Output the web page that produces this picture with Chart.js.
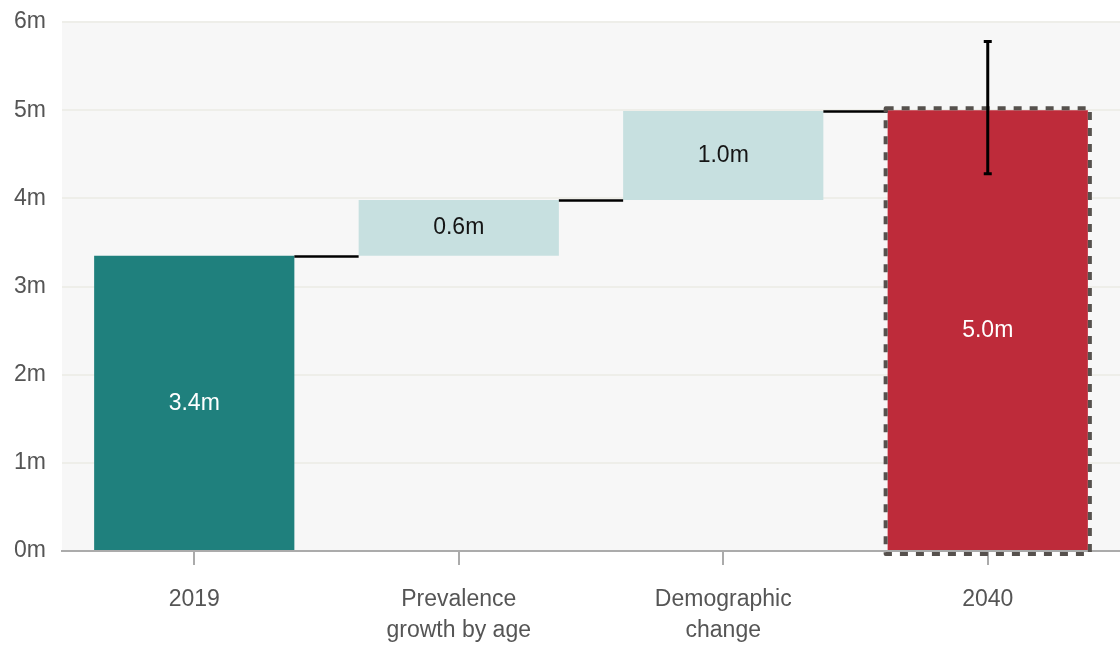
<!DOCTYPE html>
<html>
<head>
<meta charset="utf-8">
<script src="https://cdn.jsdelivr.net/npm/chart.js@4/dist/chart.umd.min.js"></script>
<style>
html,body{margin:0;padding:0;background:#fff;}
#wrap{width:1120px;height:645px;position:relative;}
</style>
</head>
<body>
<div id="wrap"><canvas id="c"></canvas></div>
<script>
const categories = ["2019", ["Prevalence", "growth by age"], ["Demographic", "change"], "2040"];
const barStart = [0, 3.35, 3.98, 0];
const barEnd = [3.35, 3.98, 4.99, 5.0];
const valueLabels = ["3.4m", "0.6m", "1.0m", "5.0m"];
const errorLow = [null, null, null, 4.28];
const errorHigh = [null, null, null, 5.78];
const yTicks = [0, 1, 2, 3, 4, 5, 6];

const barColors = ["#1f807d", "#c7e0e0", "#c7e0e0", "#be2b3a"];
const labelColors = ["#ffffff", "#151515", "#151515", "#ffffff"];

const FONT = "'Liberation Sans', Arial, sans-serif";

const bgPlugin = {
  id: 'bg',
  beforeDraw(chart) {
    const {ctx, chartArea: a} = chart;
    ctx.save();
    ctx.fillStyle = '#f7f7f7';
    ctx.fillRect(a.left, a.top, a.right - a.left, a.bottom - a.top);
    ctx.restore();
  }
};

const overlayPlugin = {
  id: 'overlay',
  afterDatasetsDraw(chart) {
    const {ctx} = chart;
    const y = chart.scales.y;
    const bars = chart.getDatasetMeta(0).data;
    ctx.save();
    // connectors
    ctx.strokeStyle = '#000';
    ctx.lineWidth = 2.5;
    for (let i = 0; i < bars.length - 1; i++) {
      const b = bars[i], n = bars[i + 1];
      const py = Math.round(y.getPixelForValue(barEnd[i])) + 0.5;
      ctx.beginPath();
      ctx.moveTo(b.x + b.width / 2, py);
      ctx.lineTo(n.x - n.width / 2, py);
      ctx.stroke();
    }
    // dashed outline on last bar
    const last = bars[bars.length - 1];
    ctx.strokeStyle = '#56514d';
    ctx.lineWidth = 4;
    ctx.lineJoin = 'round';
    ctx.setLineDash([8, 8]);
    const l = last.x - last.width / 2 - 2, r = last.x + last.width / 2 + 2;
    const t = y.getPixelForValue(barEnd[3]) - 2, bt = y.getPixelForValue(barStart[3]) + 3;
    ctx.strokeRect(l, t, r - l, bt - t);
    ctx.setLineDash([]);
    // labels
    ctx.font = '23px ' + FONT;
    ctx.textAlign = 'center';
    ctx.textBaseline = 'middle';
    bars.forEach((b, i) => {
      const cy = (y.getPixelForValue(barStart[i]) + y.getPixelForValue(barEnd[i])) / 2;
      ctx.fillStyle = labelColors[i];
      ctx.fillText(valueLabels[i], b.x, cy);
    });
    // error bars
    ctx.strokeStyle = '#000';
    bars.forEach((b, i) => {
      if (errorLow[i] == null) return;
      const y1 = y.getPixelForValue(errorLow[i]), y2 = y.getPixelForValue(errorHigh[i]);
      ctx.lineWidth = 3;
      ctx.beginPath();
      ctx.moveTo(b.x, y1); ctx.lineTo(b.x, y2); ctx.stroke();
      ctx.beginPath();
      ctx.moveTo(b.x - 4, y1); ctx.lineTo(b.x + 4, y1);
      ctx.moveTo(b.x - 4, y2); ctx.lineTo(b.x + 4, y2);
      ctx.stroke();
    });
    ctx.restore();
  }
};

new Chart(document.getElementById('c'), {
  type: 'bar',
  data: {
    labels: categories,
    datasets: [{
      data: barStart.map((s, i) => [s, barEnd[i]]),
      backgroundColor: barColors,
      borderWidth: 0,
      barPercentage: 0.757,
      categoryPercentage: 1
    }]
  },
  options: {
    responsive: true,
    maintainAspectRatio: false,
    animation: false,
    layout: {padding: {top: 22, right: 0, bottom: 0, left: 0}},
    plugins: {legend: {display: false}, tooltip: {enabled: false}},
    scales: {
      x: {
        grid: {drawOnChartArea: false, offset: false, color: '#ababab', lineWidth: 2, tickLength: 14},
        border: {color: '#ababab', width: 2},
        ticks: {color: '#555', font: {family: FONT, size: 23, lineHeight: 1.35}, padding: 19, maxRotation: 0},
        afterFit(s) { s.height = 94; s.paddingLeft = 0; s.paddingRight = 0; }
      },
      y: {
        min: 0, max: 6,
        afterBuildTicks(s) { s.ticks = yTicks.map(v => ({value: v})); },
        grid: {color: '#eeeee9', lineWidth: 2, drawTicks: false},
        border: {display: false},
        ticks: {color: '#555', font: {family: FONT, size: 23}, padding: 16, callback: v => v + 'm'},
        afterFit(s) { s.width = 62; s.paddingTop = 0; s.paddingBottom = 0; }
      }
    }
  },
  plugins: [bgPlugin, overlayPlugin]
});
</script>
</body>
</html>
